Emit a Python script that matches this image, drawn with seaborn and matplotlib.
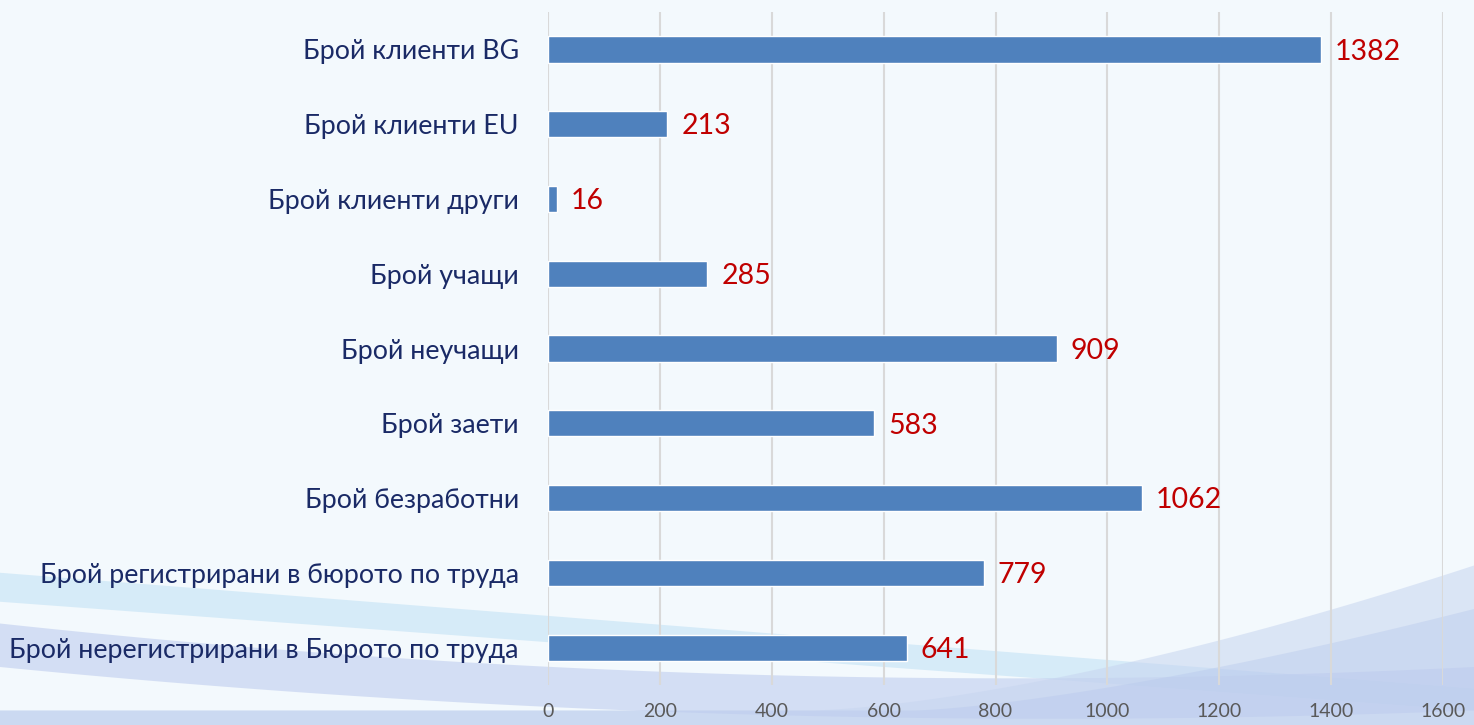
import numpy as np
import pandas as pd
import matplotlib.pyplot as plt
import seaborn as sns

categories = [
    'Брой клиенти BG',
    'Брой клиенти EU',
    'Брой клиенти други',
    'Брой учащи',
    'Брой неучащи',
    'Брой заети',
    'Брой безработни',
    'Брой регистрирани в бюрото по труда',
    'Брой нерегистрирани в Бюрото по труда',
]
values = [1382, 213, 16, 285, 909, 583, 1062, 779, 641]
x_ticks = [0, 200, 400, 600, 800, 1000, 1200, 1400, 1600]

df = pd.DataFrame({'category': categories, 'value': values})

sns.set_style('white')
plt.rcParams['font.family'] = ['Lato', 'DejaVu Sans']

fig = plt.figure(figsize=(14.74, 7.25), dpi=100)
fig.patch.set_facecolor('#F3F9FD')

# soft background waves (decoration only)
bg = fig.add_axes([0, 0, 1, 1], zorder=0)
bg.set_xlim(0, 1)
bg.set_ylim(0, 1)
bg.axis('off')
t = np.linspace(0, 1, 300)
# light blue band from the left
bg.fill_between(t, 0.21 - 0.16 * t, 0.17 - 0.15 * t,
                color='#CFE8F7', alpha=0.8, lw=0)
# periwinkle band dipping to the bottom middle
upper = 0.14 - 0.22 * t + 0.16 * t ** 2
lower = 0.08 - 0.20 * t + 0.14 * t ** 2
bg.fill_between(t, upper, np.clip(lower, 0, 1), color='#BFCDEE', alpha=0.6, lw=0)
# rising sweep on the right
rise = np.where(t > 0.55, 0.02 + 0.20 * ((t - 0.55) / 0.45) ** 1.5, 0.02)
bg.fill_between(t, rise, 0, color='#C7D5F0', alpha=0.55, lw=0)
rise2 = np.where(t > 0.62, 0.02 + 0.14 * ((t - 0.62) / 0.38) ** 1.4, 0.02)
bg.fill_between(t, rise2, 0, color='#B6C7EC', alpha=0.4, lw=0)

ax = fig.add_axes([0.3718, 0.0552, 0.979 - 0.3718, 0.9834 - 0.0552], zorder=1)
ax.set_facecolor('none')

sns.barplot(data=df, x='value', y='category', orient='h', color='#4F81BD',
            width=0.35, saturation=1, ax=ax)

for i, v in enumerate(values):
    ax.text(v + 25, i + 0.03, str(v), va='center', ha='left', color='#C00000',
            fontsize=20.5)

ax.set_xlim(0, 1600)
ax.set_ylim(8.5, -0.5)
ax.set_xticks(x_ticks)
ax.set_xticklabels([str(x) for x in x_ticks], color='#595959', fontsize=14)
ax.tick_params(axis='x', length=0, pad=13)
ax.tick_params(axis='y', length=0, pad=21)
for lbl in ax.get_yticklabels():
    lbl.set_color('#1A2A66')
    lbl.set_fontsize(19.3)
ax.xaxis.grid(True, color='#D9D9D9', lw=1.5)
ax.set_axisbelow(True)
ax.set_xlabel('')
ax.set_ylabel('')
for s in ax.spines.values():
    s.set_visible(False)

fig.savefig('out.png', dpi=100, facecolor=fig.get_facecolor())
